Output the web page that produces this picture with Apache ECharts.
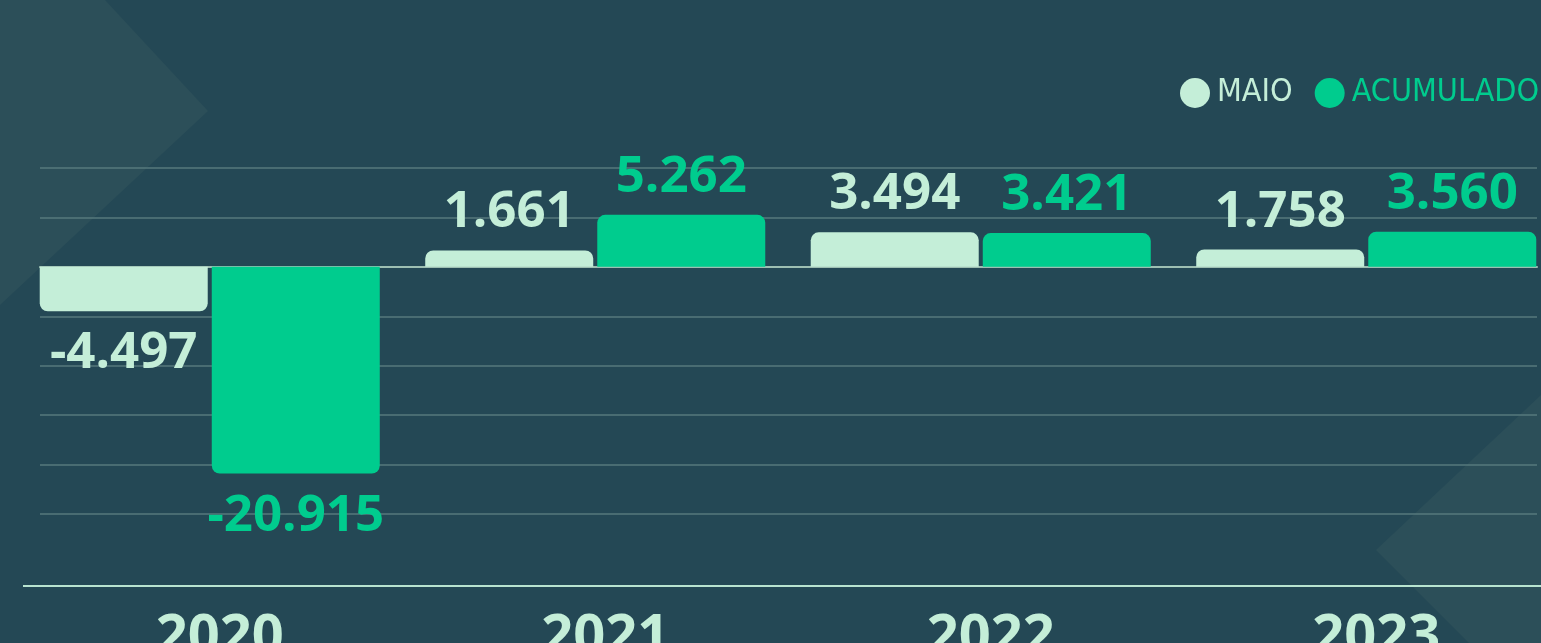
<!DOCTYPE html>
<html>
<head>
<meta charset="utf-8">
<style>
  html, body { margin: 0; padding: 0; background: #244855; }
  #chart-main { width: 1541px; height: 643px; }
</style>
<script src="https://cdn.jsdelivr.net/npm/echarts@6/dist/echarts.min.js"></script>
</head>
<body>
<div id="chart-main"></div>
<script>
// dados (milhares)
const years = ['2020', '2021', '2022', '2023'];
const maio = [-4.497, 1.661, 3.494, 1.758];
const acumulado = [-20.915, 5.262, 3.421, 3.56];

const LIGHT = '#c4eed8';
const GREEN = '#00cc8e';

// cantos arredondados só na ponta livre da barra
function withRadius(values) {
  return values.map(function (v) {
    let item = {
      value: v,
      itemStyle: { borderRadius: v < 0 ? [0, 0, 8, 8] : [8, 8, 0, 0] }
    };
    // rótulo abaixo da barra quando o valor é negativo
    if (v < 0) {
      item.label = { position: 'bottom', distance: 17 };
    }
    return item;
  });
}

function barLabel(color) {
  return {
    show: true,
    position: 'top',
    distance: 12,
    color: color,
    fontFamily: 'Open Sans',
    fontWeight: 'bold',
    fontSize: 51,
    formatter: function (p) {
      return p.value.toFixed(3);
    }
  };
}

let myChart = echarts.init(document.getElementById('chart-main'));

let option = {
  backgroundColor: '#244855',
  animation: false,
  graphic: [
    {
      type: 'polygon',
      z: -10,
      shape: { points: [[0, 0], [105, 0], [208, 111], [0, 305]] },
      style: { fill: '#2c4f59' }
    },
    {
      type: 'polygon',
      z: -10,
      shape: { points: [[1541, 395], [1376, 550], [1469, 643], [1541, 643]] },
      style: { fill: '#2c4f59' }
    },
    {
      type: 'line',
      z: -5,
      shape: { x1: 23, y1: 586, x2: 1541, y2: 586 },
      style: { stroke: '#b8e4d0', lineWidth: 2 }
    }
  ],
  legend: {
    left: 1175,
    top: 72,
    width: 600,
    icon: 'circle',
    itemWidth: 30,
    itemHeight: 30,
    itemGap: 22,
    textStyle: {
      fontFamily: 'DejaVu Sans Condensed',
      fontSize: 32,
      padding: [0, 0, 0, 2]
    },
    data: [
      { name: 'MAIO', textStyle: { color: LIGHT } },
      { name: 'ACUMULADO', textStyle: { color: GREEN } }
    ]
  },
  grid: [
    { left: 17, width: 1542, top: 168, height: 346, outerBoundsMode: 'none' },
    { left: 40, width: 1497, top: 168, height: 346, outerBoundsMode: 'none' }
  ],
  xAxis: [
    {
      type: 'category',
      gridIndex: 0,
      data: years,
      axisLine: { show: false },
      axisTick: { show: false },
      axisLabel: {
        margin: 96,
        color: LIGHT,
        fontFamily: 'Open Sans',
        fontWeight: 'bold',
        fontSize: 56,
        padding: [0, 0, 0, 20]
      }
    },
    {
      type: 'value',
      gridIndex: 1,
      min: 0,
      max: 1,
      axisLabel: { show: false },
      axisTick: { show: false },
      splitLine: { show: false },
      axisLine: { show: true, onZero: true, lineStyle: { color: '#9dbfb2', width: 2 } }
    }
  ],
  yAxis: [
    {
      type: 'value',
      gridIndex: 0,
      min: -25,
      max: 10,
      interval: 5,
      show: false
    },
    {
      type: 'value',
      gridIndex: 1,
      min: -25,
      max: 10,
      interval: 5,
      axisLine: { show: false },
      axisTick: { show: false },
      axisLabel: { show: false },
      splitLine: { show: true, lineStyle: { color: '#56797d', width: 1.5 } }
    }
  ],
  series: [
    {
      name: 'MAIO',
      type: 'bar',
      xAxisIndex: 0,
      yAxisIndex: 0,
      barWidth: 168,
      barGap: '2.4%',
      z: 1,
      itemStyle: { color: LIGHT },
      label: barLabel(LIGHT),
      data: withRadius(maio)
    },
    {
      name: 'ACUMULADO',
      type: 'bar',
      xAxisIndex: 0,
      yAxisIndex: 0,
      barWidth: 168,
      barGap: '2.4%',
      z: 1,
      itemStyle: { color: GREEN },
      label: barLabel(GREEN),
      data: withRadius(acumulado)
    }
  ]
};

myChart.setOption(option);
</script>
</body>
</html>
